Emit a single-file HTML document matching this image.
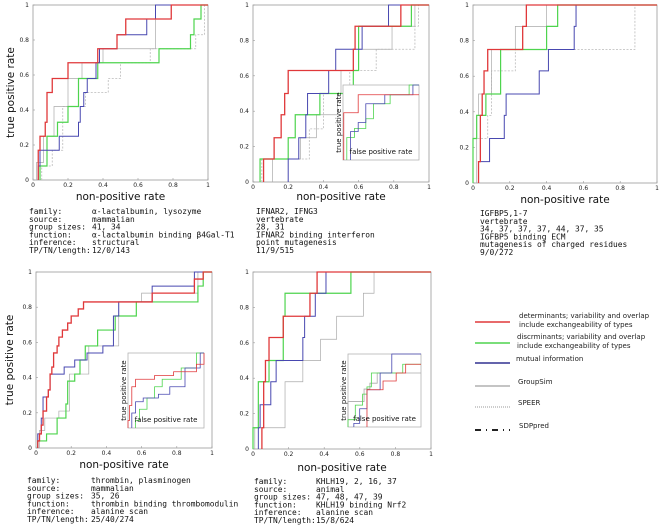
<!DOCTYPE html>
<html><head><meta charset="utf-8">
<style>
body{margin:0;background:#fff;width:661px;height:527px;overflow:hidden;font-family:"Liberation Sans",sans-serif}
svg{display:block}
.t{font-family:"DejaVu Sans Mono","Liberation Mono",monospace;font-size:7.9px;fill:#111}
.tick{font-family:"DejaVu Sans","Liberation Sans",sans-serif;font-size:6px;fill:#222}
.al{font-family:"DejaVu Sans","Liberation Sans",sans-serif;font-size:10.5px;fill:#111}
.il{font-family:"DejaVu Sans","Liberation Sans",sans-serif;font-size:7px;fill:#111}
.lg{font-family:"DejaVu Sans","Liberation Sans",sans-serif;font-size:7px;fill:#222}
</style></head><body>
<svg id="fig" width="661" height="527" viewBox="0 0 661 527"></svg>
<script>
// ---- data (fpr / tpr corner arrays per series) ----
const p1RedX=[0.03,0.04,0.07,0.08,0.11,0.2,0.37,0.48,0.53,0.79];
const p1RedY=[0.17,0.25,0.33,0.5,0.58,0.67,0.75,0.83,0.92,1];
const p1BlueX=[0.03,0.04,0.15,0.26,0.27,0.29,0.31,0.36,0.38,0.48,0.65,0.7];
const p1BlueY=[0.08,0.17,0.25,0.33,0.42,0.5,0.58,0.67,0.75,0.83,0.92,1];
const p1GreenX=[0.04,0.08,0.14,0.2,0.26,0.37,0.72,0.9,0.92,0.96];
const p1GreenY=[0.08,0.25,0.33,0.42,0.58,0.67,0.75,0.83,0.92,1];
const p1GrayX=[0.02,0.06,0.12,0.2,0.28,0.4,0.7];
const p1GrayY=[0.1,0.25,0.42,0.58,0.67,0.75,1];
const p1DotX=[0.05,0.11,0.17,0.3,0.43,0.5,0.67,0.93,0.98];
const p1DotY=[0.08,0.17,0.42,0.5,0.58,0.67,0.75,0.83,1];

const p2RedX=[0.06,0.12,0.16,0.18,0.2,0.57,0.58,0.84];
const p2RedY=[0.13,0.25,0.38,0.5,0.63,0.75,0.88,1];
const p2GreenX=[0.04,0.2,0.24,0.38,0.57,0.6,0.9];
const p2GreenY=[0.13,0.25,0.38,0.5,0.63,0.88,1];
const p2BlueX=[0.2,0.26,0.3,0.31,0.43,0.47,0.62,0.77];
const p2BlueY=[0.13,0.25,0.38,0.5,0.63,0.75,0.88,1];
const p2GrayX=[0.11,0.27,0.36,0.48,0.5,0.6,0.79,0.92];
const p2GrayY=[0.13,0.25,0.38,0.5,0.63,0.75,0.88,1];
const p2DotX=[0.05,0.32,0.4,0.55,0.7,0.92,0.94];
const p2DotY=[0.13,0.3,0.5,0.63,0.75,0.88,1];
const i2RedX=[0.01,0.2]; const i2RedY=[0.63,0.87];
const i2GreenX=[0.05,0.15,0.3,0.4,0.62,0.87]; const i2GreenY=[0.3,0.42,0.55,0.75,0.87,1];
const i2BlueX=[0.1,0.2,0.3,0.55,0.92]; const i2BlueY=[0.38,0.5,0.75,0.87,1];

const p3RedX=[0.03,0.04,0.05,0.06,0.08,0.27,0.29];
const p3RedY=[0.12,0.38,0.5,0.63,0.75,0.88,1];
const p3GreenX=[0,0.02,0.07,0.15,0.4,0.46];
const p3GreenY=[0.25,0.38,0.5,0.75,0.88,1];
const p3BlueX=[0.03,0.09,0.17,0.18,0.36,0.41,0.55,0.56];
const p3BlueY=[0.12,0.25,0.38,0.5,0.63,0.75,0.88,1];
const p3GrayX=[0.02,0.03,0.1,0.23,0.4];
const p3GrayY=[0.38,0.5,0.75,0.88,1];
const p3DotX=[0.0,0.08,0.1,0.23,0.88];
const p3DotY=[0.25,0.38,0.63,0.75,1];

const p4RedX=[0.01,0.02,0.03,0.04,0.06,0.07,0.08,0.09,0.1,0.12,0.13,0.15,0.18,0.2,0.24,0.27,0.34,0.66,0.9,0.95];
const p4RedY=[0.04,0.08,0.13,0.21,0.29,0.33,0.42,0.46,0.54,0.58,0.63,0.67,0.71,0.75,0.79,0.83,0.83,0.88,0.96,1];
const p4BlueX=[0.01,0.03,0.04,0.07,0.08,0.16,0.22,0.29,0.38,0.44,0.47,0.66,0.9];
const p4BlueY=[0.08,0.17,0.29,0.33,0.42,0.46,0.5,0.54,0.58,0.75,0.83,0.92,1];
const p4GreenX=[0.01,0.06,0.12,0.17,0.18,0.22,0.25,0.28,0.35,0.45,0.57,0.92,0.95];
const p4GreenY=[0.04,0.08,0.17,0.25,0.38,0.42,0.5,0.58,0.67,0.75,0.83,0.92,1];
const p4GrayX=[0.02,0.05,0.13,0.19,0.3,0.47,0.6,0.92];
const p4GrayY=[0.1,0.17,0.21,0.42,0.58,0.83,0.88,1];
const i4RedX=[0,0.02,0.05,0.1,0.35,0.6,0.9,1]; const i4RedY=[0.1,0.3,0.55,0.65,0.7,0.75,0.85,1];
const i4BlueX=[0.05,0.1,0.2,0.4,0.55,0.75,0.95]; const i4BlueY=[0.2,0.35,0.4,0.45,0.55,0.8,1];
const i4GreenX=[0.1,0.15,0.25,0.35,0.45,0.7,0.9]; const i4GreenY=[0.1,0.25,0.4,0.55,0.65,0.8,1];

const p5RedX=[0.05,0.06,0.07,0.09,0.17,0.32,0.36];
const p5RedY=[0.12,0.38,0.5,0.63,0.75,0.88,1];
const p5GreenX=[0,0.03,0.09,0.17,0.18,0.55];
const p5GreenY=[0.12,0.38,0.5,0.75,0.88,1];
const p5BlueX=[0.03,0.04,0.1,0.13,0.28,0.29,0.35,0.41];
const p5BlueY=[0.12,0.25,0.38,0.5,0.63,0.75,0.88,1];
const p5GrayX=[0.01,0.18,0.28,0.38,0.47,0.62,0.68];
const p5GrayY=[0.12,0.38,0.5,0.62,0.75,0.88,1];
const i5RedX=[0.26,0.48,0.66,0.79]; const i5RedY=[0.51,0.63,0.74,0.86];
const i5BlueX=[0.08,0.16,0.26,0.44,0.6]; const i5BlueY=[0.05,0.25,0.51,0.74,1];
const i5GreenX=[0,0.1,0.2,0.26,0.32,0.75]; const i5GreenY=[0.1,0.3,0.45,0.55,0.74,0.86];
const i5GrayX=[0,0.22,0.3,0.4]; const i5GrayY=[0.35,0.52,0.6,0.74];

const tickVals=[0,0.2,0.4,0.6,0.8,1];
const tickLabels=["0","0.2","0.4","0.6","0.8","1"];

const C={red:"#e0383a",green:"#4ed44e",blue:"#4848b0",gray:"#aaaaaa",dot:"#bbbbbb"};
const NS="http://www.w3.org/2000/svg";
const svg=document.getElementById('fig');
function mk(tag,attrs,parent){const e=document.createElementNS(NS,tag);for(const k in attrs)e.setAttribute(k,attrs[k]);(parent||svg).appendChild(e);return e;}
function txt(s,x,y,cls,parent,extra){const e=mk('text',Object.assign({x:x,y:y,class:cls},extra||{}),parent);e.textContent=s;return e;}

function curve(g,box,xs,ys,color,w,dash,name){
  const sx=v=>box.x+v*box.w, sy=v=>box.y+box.h-v*box.h;
  let d="M"+sx(xs[0])+","+sy(0);
  for(let i=0;i<xs.length;i++){d+=" H"+sx(xs[i])+" V"+sy(ys[i]);}
  d+=" H"+sx(1);
  const p=mk('path',{d:d,fill:'none',stroke:color,'stroke-width':w},g);
  if(dash)p.setAttribute('stroke-dasharray',dash);
  
  
}

function panel(id,box,series,xlab,ylab,info,infoX,infoY,keyX){
  const g=mk('g',{});
  
  
  mk('rect',{x:box.x,y:box.y,width:box.w,height:box.h,fill:'none',stroke:'#999','stroke-width':0.8},g);
  tickVals.forEach((v,i)=>{
    const x=box.x+v*box.w, y=box.y+box.h-v*box.h;
    mk('line',{x1:x,y1:box.y+box.h,x2:x,y2:box.y+box.h-2,stroke:'#999','stroke-width':0.6},g);
    mk('line',{x1:box.x,y1:y,x2:box.x+2,y2:y,stroke:'#999','stroke-width':0.6},g);
    txt(tickLabels[i],x,box.y+box.h+7,'tick',g,{'text-anchor':'middle'});
    txt(tickLabels[i],box.x-4,y+2,'tick',g,{'text-anchor':'end'});
  });
  series.forEach(s=>curve(g,box,s[0],s[1],s[2],s[3],s[4],s[5]));
  const xl=txt('non-positive rate',box.x+box.w/2,xlab,'al',g,{'text-anchor':'middle'});
  
  if(ylab){const yl=txt('true positive rate',0,0,'al',g,{'text-anchor':'middle',transform:'translate('+ylab+','+(box.y+box.h/2)+') rotate(-90)'});}
  const keys=["family:","source:","group sizes:","function:","inference:","TP/TN/length:"];
  info.forEach((s,i)=>{
    if(keyX!==null) txt(keys[i],keyX,infoY+i*7.8,'t',g);
    txt(s,infoX,infoY+i*7.8,'t',g);
  });
  return g;
}
function inset(g,box,series){
  mk('rect',{x:box.x,y:box.y,width:box.w,height:box.h,fill:'#fff',stroke:'#aaa','stroke-width':0.7},g);
  series.forEach(s=>curve(g,box,s[0],s[1],s[2],0.8,null,s[3]));
  txt('false positive rate',box.x+box.w/2,box.y+box.h-6,'il',g,{'text-anchor':'middle'});
  txt('true positive rate',0,0,'il',g,{'text-anchor':'middle',transform:'translate('+(box.x-2)+','+(box.y+box.h/2)+') rotate(-90)'});
}

const B1={x:33,y:5,w:175,h:175};
panel('panel-lactalbumin',B1,[
 [p1DotX,p1DotY,C.dot,0.8,'2,1.5','speer-curve'],[p1GrayX,p1GrayY,C.gray,0.7,null,'groupsim-curve'],
 [p1GreenX,p1GreenY,C.green,1.2,null,'discriminants-curve'],[p1BlueX,p1BlueY,C.blue,1,null,'mutual-information-curve'],
 [p1RedX,p1RedY,C.red,1.3,null,'determinants-curve']],
 200,14,["α-lactalbumin, lysozyme","mammalian","41, 34","α-lactalbumin binding β4Gal-T1","structural","12/0/143"],92,214,29);

const B2={x:253,y:5,w:176,h:177};
const g2=panel('panel-ifnar2',B2,[
 [p2DotX,p2DotY,C.dot,0.8,'2,1.5','speer-curve'],[p2GrayX,p2GrayY,C.gray,0.7,null,'groupsim-curve'],
 [p2GreenX,p2GreenY,C.green,1.2,null,'discriminants-curve'],[p2BlueX,p2BlueY,C.blue,1,null,'mutual-information-curve'],
 [p2RedX,p2RedY,C.red,1.3,null,'determinants-curve']],
 200,null,["IFNAR2, IFNG3","vertebrate","28, 31","IFNAR2 binding interferon","point mutagenesis","11/9/515"],256,214,null);
inset(g2,{x:343,y:85,w:76,h:75},[[i2GreenX,i2GreenY,C.green,'inset-green'],[i2BlueX,i2BlueY,C.blue,'inset-blue'],[i2RedX,i2RedY,C.red,'inset-red']]);

const B3={x:473,y:5,w:184,h:178};
panel('panel-igfbp5',B3,[
 [p3DotX,p3DotY,C.dot,0.8,'2,1.5','speer-curve'],[p3GrayX,p3GrayY,C.gray,0.7,null,'groupsim-curve'],
 [p3GreenX,p3GreenY,C.green,1.2,null,'discriminants-curve'],[p3BlueX,p3BlueY,C.blue,1,null,'mutual-information-curve'],
 [p3RedX,p3RedY,C.red,1.3,null,'determinants-curve']],
 203,null,["IGFBP5,1-7","vertebrate","34, 37, 37, 37, 44,  37, 35","IGFBP5 binding ECM","mutagenesis of charged residues","9/0/272"],480,216,null);

const B4={x:36,y:272,w:176,h:176};
const g4=panel('panel-thrombin',B4,[
 [p4GrayX,p4GrayY,C.gray,0.7,null,'groupsim-curve'],
 [p4GreenX,p4GreenY,C.green,1.2,null,'discriminants-curve'],[p4BlueX,p4BlueY,C.blue,1,null,'mutual-information-curve'],
 [p4RedX,p4RedY,C.red,1.3,null,'determinants-curve']],
 468,13,["thrombin, plasminogen","mammalian","35, 26","thrombin binding thrombomodulin","alanine scan","25/40/274"],91,483,27);
inset(g4,{x:128,y:353,w:76,h:75},[[i4GreenX,i4GreenY,C.green,'inset-green'],[i4BlueX,i4BlueY,C.blue,'inset-blue'],[i4RedX,i4RedY,C.red,'inset-red']]);

const B5={x:253,y:272,w:178,h:177};
const g5=panel('panel-khlh19',B5,[
 [p5GrayX,p5GrayY,C.gray,0.7,null,'groupsim-curve'],
 [p5GreenX,p5GreenY,C.green,1.2,null,'discriminants-curve'],[p5BlueX,p5BlueY,C.blue,1,null,'mutual-information-curve'],
 [p5RedX,p5RedY,C.red,1.3,null,'determinants-curve']],
 471,null,["KHLH19, 2, 16, 37","animal","47, 48, 47, 39","KHLH19 binding Nrf2","alanine scan","15/8/624"],316,484,254);
inset(g5,{x:348,y:354,w:73,h:73},[[i5GrayX,i5GrayY,C.gray,'inset-gray'],[i5GreenX,i5GreenY,C.green,'inset-green'],[i5BlueX,i5BlueY,C.blue,'inset-blue'],[i5RedX,i5RedY,C.red,'inset-red']]);

// legend
const lg=mk('g',{});


const legItems=[
 [322,C.red,1.5,null,["determinants; variability and overlap","include exchangeability of types"],519],
 [343,C.green,1.5,null,["discrminants; variability and overlap","include exchangeability of types"],517],
 [363,"#303090",1.5,null,["mutual information"],516],
 [386,"#888",1,null,["GroupSim"],518],
 [407,"#777",0.8,"1,1",["SPEER"],518],
 [430,"#222",2,"6,5,1,5",["SDPpred"],519]];
legItems.forEach(it=>{
  const e=mk('g',{},lg);
  
  
  const l=mk('line',{x1:475,y1:it[0],x2:510,y2:it[0],stroke:it[1],'stroke-width':it[2]},e);
  if(it[3])l.setAttribute('stroke-dasharray',it[3]);
  it[4].forEach((s,i)=>txt(s,it[5],it[0]-6+2+i*9+(it[4].length==1?2:0),'lg',e));
});
</script>
</body></html>
